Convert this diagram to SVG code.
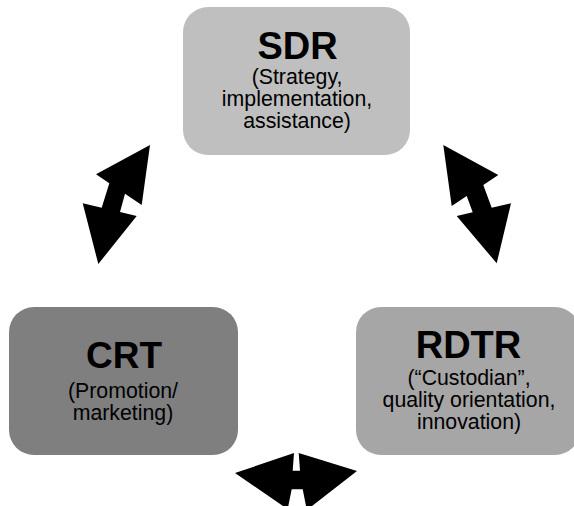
<svg xmlns="http://www.w3.org/2000/svg" width="574" height="506" viewBox="0 0 574 506">
<style>
.box{stroke:none}
.title{font-family:"Liberation Sans",Arial,sans-serif;font-weight:bold;font-size:37px;fill:#000;text-anchor:middle}
.sub{font-family:"Liberation Sans",Arial,sans-serif;font-size:21.3px;fill:#000;text-anchor:middle}
.arrow{fill:#000;stroke:none}
</style>
<rect width="574" height="506" fill="#fff"/>
<g id="sdr">
<rect class="box" x="183" y="7" width="227" height="148" rx="25" fill="#bfbfbf"/>
<text class="title" x="297.5" y="59" style="font-size:38px">SDR</text>
<text class="sub" x="297" y="84">(Strategy,</text>
<text class="sub" x="297" y="106">implementation,</text>
<text class="sub" x="297" y="128">assistance)</text>
</g>
<g id="crt">
<rect class="box" x="9" y="307" width="229" height="148" rx="25" fill="#7f7f7f"/>
<text class="title" x="124" y="368">CRT</text>
<text class="sub" x="123" y="398">(Promotion/</text>
<text class="sub" x="123" y="420">marketing)</text>
</g>
<g id="rdtr">
<rect class="box" x="356" y="307" width="224" height="148" rx="25" fill="#a6a6a6"/>
<text class="title" x="468.5" y="358" style="font-size:38px">RDTR</text>
<text class="sub" x="469" y="385">(“Custodian”,</text>
<text class="sub" x="469" y="407">quality orientation,</text>
<text class="sub" x="469" y="429">innovation)</text>
</g>
<g id="connectors">
<polygon class="arrow" points="150,145 141.7,205 125,193.8 120,212.1 136.7,216 98.3,264 82.7,203.3 101.7,207.8 109.3,183.3 96,174.3"/>
<polygon class="arrow" points="443.3,145 498.3,175 483.3,185 491.7,207.8 511,203.3 496.7,263.3 456.7,216 472.7,212.3 466.7,196 451.7,206"/>
<polygon class="arrow" points="235,473 294,453 292.7,470.7 300,470.7 298.7,453 357,471 312,506 306,506 302.7,489.3 291.7,489.3 288.3,506 283,506"/>
</g>
</svg>
